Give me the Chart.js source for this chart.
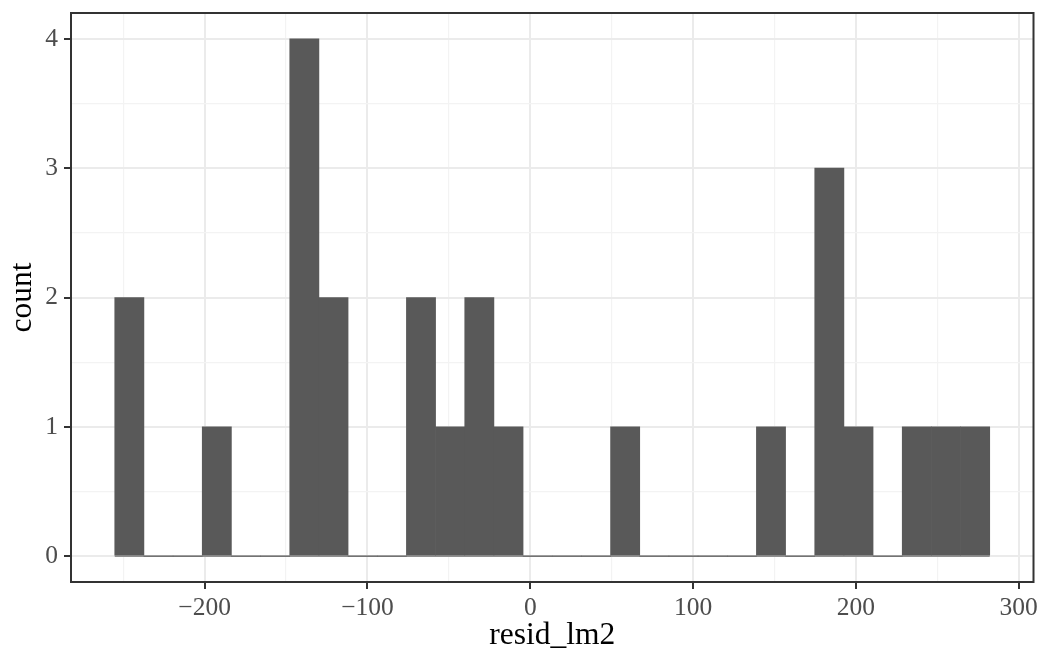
<!DOCTYPE html>
<html>
<head>
<meta charset="utf-8">
<script src="https://cdn.jsdelivr.net/npm/chart.js@4/dist/chart.umd.min.js"></script>
<style>
    html, body { margin: 0; padding: 0; background: #ffffff; }
    #wrap { width: 1043px; height: 654px; }
</style>
</head>
<body>
<div id="wrap"><canvas id="histChart" width="1043" height="654"></canvas></div>
<script>
// histogram of resid_lm2, 30 bins (bin centres)
const binWidth = 17.915;
const binCenters = [
    -246.27, -228.36, -210.44, -192.53, -174.61, -156.70, -138.78, -120.87, -102.95, -85.04,
    -67.12, -49.21, -31.29, -13.38, 4.54, 22.45, 40.37, 58.28, 76.20, 94.11,
    112.03, 129.94, 147.86, 165.77, 183.69, 201.60, 219.52, 237.43, 255.35, 273.26
];
const counts = [2, 0, 0, 1, 0, 0, 4, 2, 0, 0, 2, 1, 2, 1, 0, 0, 0, 1, 0, 0, 0, 0, 1, 0, 3, 1, 0, 1, 1, 1];

const xMajor = [-200, -100, 0, 100, 200, 300];
const xMinor = [-250, -150, -50, 50, 150, 250];
const yMajor = [0, 1, 2, 3, 4];
const yMinor = [0.5, 1.5, 2.5, 3.5];
const xRange = [-282.1, 309.1];
const yRange = [-0.2, 4.2];

const FONT = "'Liberation Serif', 'DejaVu Serif', serif";
const fmt = v => (v < 0 ? '\u2212' + Math.abs(v) : String(v));

const isMajor = (list, v) => list.some(m => Math.abs(m - v) < 1e-6);

function gridOpts(major) {
    return {
        offset: false,
        drawTicks: true,
        tickLength: 7,
        tickWidth: 2,
        tickColor: ctx => (ctx.tick && isMajor(major, ctx.tick.value) ? '#333333' : 'rgba(0,0,0,0)'),
        color: ctx => (ctx.tick && isMajor(major, ctx.tick.value) ? '#ebebeb' : '#f3f3f3'),
        lineWidth: ctx => (ctx.tick && isMajor(major, ctx.tick.value) ? 2 : 1.2)
    };
}

// thin line for the empty bins plus the panel border
const panelPlugin = {
    id: 'panel',
    beforeDatasetsDraw(chart) {
        const { ctx, scales: { x, y } } = chart;
        const x0 = x.getPixelForValue(binCenters[0] - binWidth / 2);
        const x1 = x.getPixelForValue(binCenters[binCenters.length - 1] + binWidth / 2);
        const y0 = y.getPixelForValue(0);
        ctx.save();
        ctx.strokeStyle = '#595959';
        ctx.lineWidth = 1;
        ctx.beginPath();
        ctx.moveTo(x0, y0);
        ctx.lineTo(x1, y0);
        ctx.stroke();
        ctx.restore();
    },
    afterDraw(chart) {
        const { ctx, chartArea: a } = chart;
        ctx.save();
        ctx.strokeStyle = '#333333';
        ctx.lineWidth = 2;
        ctx.strokeRect(a.left, a.top, a.right - a.left, a.bottom - a.top);
        ctx.restore();
    }
};

new Chart(document.getElementById('histChart'), {
    type: 'bar',
    data: {
        datasets: [{
            label: 'count',
            data: binCenters.map((c, i) => ({ x: c, y: counts[i] })),
            backgroundColor: '#595959',
            borderWidth: 0,
            barPercentage: 1,
            categoryPercentage: 1
        }]
    },
    plugins: [panelPlugin],
    options: {
        responsive: false,
        animation: false,
        layout: { padding: { left: 0, right: 9.5, top: 13, bottom: 0 } },
        plugins: { legend: { display: false }, tooltip: { enabled: false } },
        scales: {
            x: {
                type: 'linear',
                offset: false,
                min: xRange[0],
                max: xRange[1],
                afterBuildTicks: s => { s.ticks = xMinor.concat(xMajor).sort((a, b) => a - b).map(v => ({ value: v })); },
                afterFit: s => { s.height = 72; },
                grid: gridOpts(xMajor),
                border: { display: false },
                ticks: {
                    padding: 4,
                    color: '#4d4d4d',
                    font: { family: FONT, size: 25.5 },
                    maxRotation: 0,
                    autoSkip: false,
                    callback: v => (isMajor(xMajor, v) ? fmt(v) : '')
                },
                title: {
                    display: true,
                    text: 'resid_lm2',
                    color: '#000000',
                    font: { family: FONT, size: 31.5 },
                    padding: { top: 0, bottom: -1 }
                }
            },
            y: {
                type: 'linear',
                min: yRange[0],
                max: yRange[1],
                afterBuildTicks: s => { s.ticks = yMinor.concat(yMajor).sort((a, b) => a - b).map(v => ({ value: v })); },
                afterFit: s => { s.width = 71; s.paddingTop = 0; s.paddingBottom = 0; },
                grid: gridOpts(yMajor),
                border: { display: false },
                ticks: {
                    padding: 6,
                    color: '#4d4d4d',
                    font: { family: FONT, size: 25.5 },
                    autoSkip: false,
                    callback: v => (isMajor(yMajor, v) ? String(v) : '')
                },
                title: {
                    display: true,
                    text: 'count',
                    color: '#000000',
                    font: { family: FONT, size: 31.5 },
                    padding: { top: 4, bottom: 0 }
                }
            }
        }
    }
});
</script>
</body>
</html>
